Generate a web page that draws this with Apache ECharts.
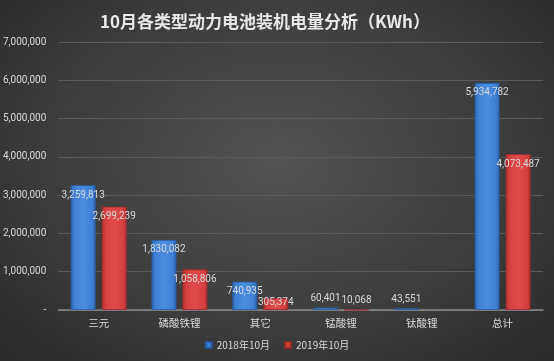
<!DOCTYPE html>
<html><head><meta charset="utf-8">
<script src="https://cdn.jsdelivr.net/npm/echarts@6/dist/echarts.min.js"></script>
<style>
html,body{margin:0;padding:0;}
body{width:554px;height:361px;background:radial-gradient(ellipse at 50% 45%, #525252 0%, #3e3e3e 55%, #292929 100%);}
#c{width:554px;height:361px;}
</style></head>
<body><div id="c"></div>
<script>
const categories = ['三元','磷酸铁锂','其它','锰酸锂','钛酸锂','总计'];
const series2018 = [3259813, 1830082, 740935, 60401, 43551, 5934782];
const series2019 = [2699239, 1058806, 305374, 10068, null, 4073487];
const seriesNames = ['2018年10月','2019年10月'];
const yMax = 7000000, yInterval = 1000000;

const chart = echarts.init(document.getElementById('c'));
function fmt(v){ return v === 0 ? '-' : v.toLocaleString('en-US'); }
function labelled(arr){
  return arr.map(v => {
    if (v == null) return null;
    if (v < 200000) return {value:v, label:{position:'top', distance:4}};
    if (v < 400000) return {value:v, label:{position:'top', distance:-9}};
    return {value:v, label:{position:'insideTop', distance:5}};
  });
}
const blue = new echarts.graphic.LinearGradient(0,0,1,0,[
  {offset:0,color:'#2b63ad'},{offset:0.15,color:'#3f80d4'},{offset:0.5,color:'#4a8de0'},{offset:0.85,color:'#3f80d4'},{offset:1,color:'#2b63ad'}]);
const red = new echarts.graphic.LinearGradient(0,0,1,0,[
  {offset:0,color:'#b02f2f'},{offset:0.15,color:'#d54040'},{offset:0.5,color:'#e04a4a'},{offset:0.85,color:'#d54040'},{offset:1,color:'#b02f2f'}]);
const labelStyle = {show:true, color:'#d9d9d9', fontSize:10, fontFamily:'Roboto, sans-serif', formatter: p => fmt(p.value)};
chart.setOption({
  backgroundColor:'transparent',
  title:{text:'10月各类型动力电池装机电量分析（KWh）', left:95, top:8,
    textStyle:{color:'#e8e8e8', fontSize:17, fontWeight:'bold', fontFamily:'Noto Sans CJK SC, sans-serif'}},
  legend:{bottom:6, left:'center', itemWidth:6, itemHeight:6, itemGap:14,
    textStyle:{color:'#d9d9d9', fontSize:10, fontFamily:'Noto Sans CJK SC, sans-serif'},
    data:[{name:seriesNames[0], icon:'rect', itemStyle:{color:'#3f80d4'}},{name:seriesNames[1], icon:'rect', itemStyle:{color:'#d54040'}}]},
  grid:{left:58, right:11, top:42, bottom:51},
  xAxis:{type:'category', data:categories,
    axisLine:{lineStyle:{color:'#8a8a8a', width:1.5}}, axisTick:{show:false},
    axisLabel:{color:'#d9d9d9', fontSize:10.5, margin:8, fontFamily:'Noto Sans CJK SC, sans-serif'}},
  yAxis:{type:'value', min:0, max:yMax, interval:yInterval,
    axisLine:{show:false}, axisTick:{show:false},
    splitLine:{lineStyle:{color:'#5a5a5a'}},
    axisLabel:{color:'#d9d9d9', fontSize:10, margin:12, fontFamily:'Roboto, sans-serif', formatter: fmt}},
  series:[
    {name:seriesNames[0], type:'bar', data:labelled(series2018), barWidth:25, barGap:'24%',
     itemStyle:{color:blue, borderColor:'#2a5a9c', borderWidth:0.8}, label:labelStyle},
    {name:seriesNames[1], type:'bar', data:labelled(series2019), barWidth:25, barGap:'24%',
     itemStyle:{color:red, borderColor:'#9a2a2a', borderWidth:0.8}, label:labelStyle}
  ]
});
</script></body></html>
